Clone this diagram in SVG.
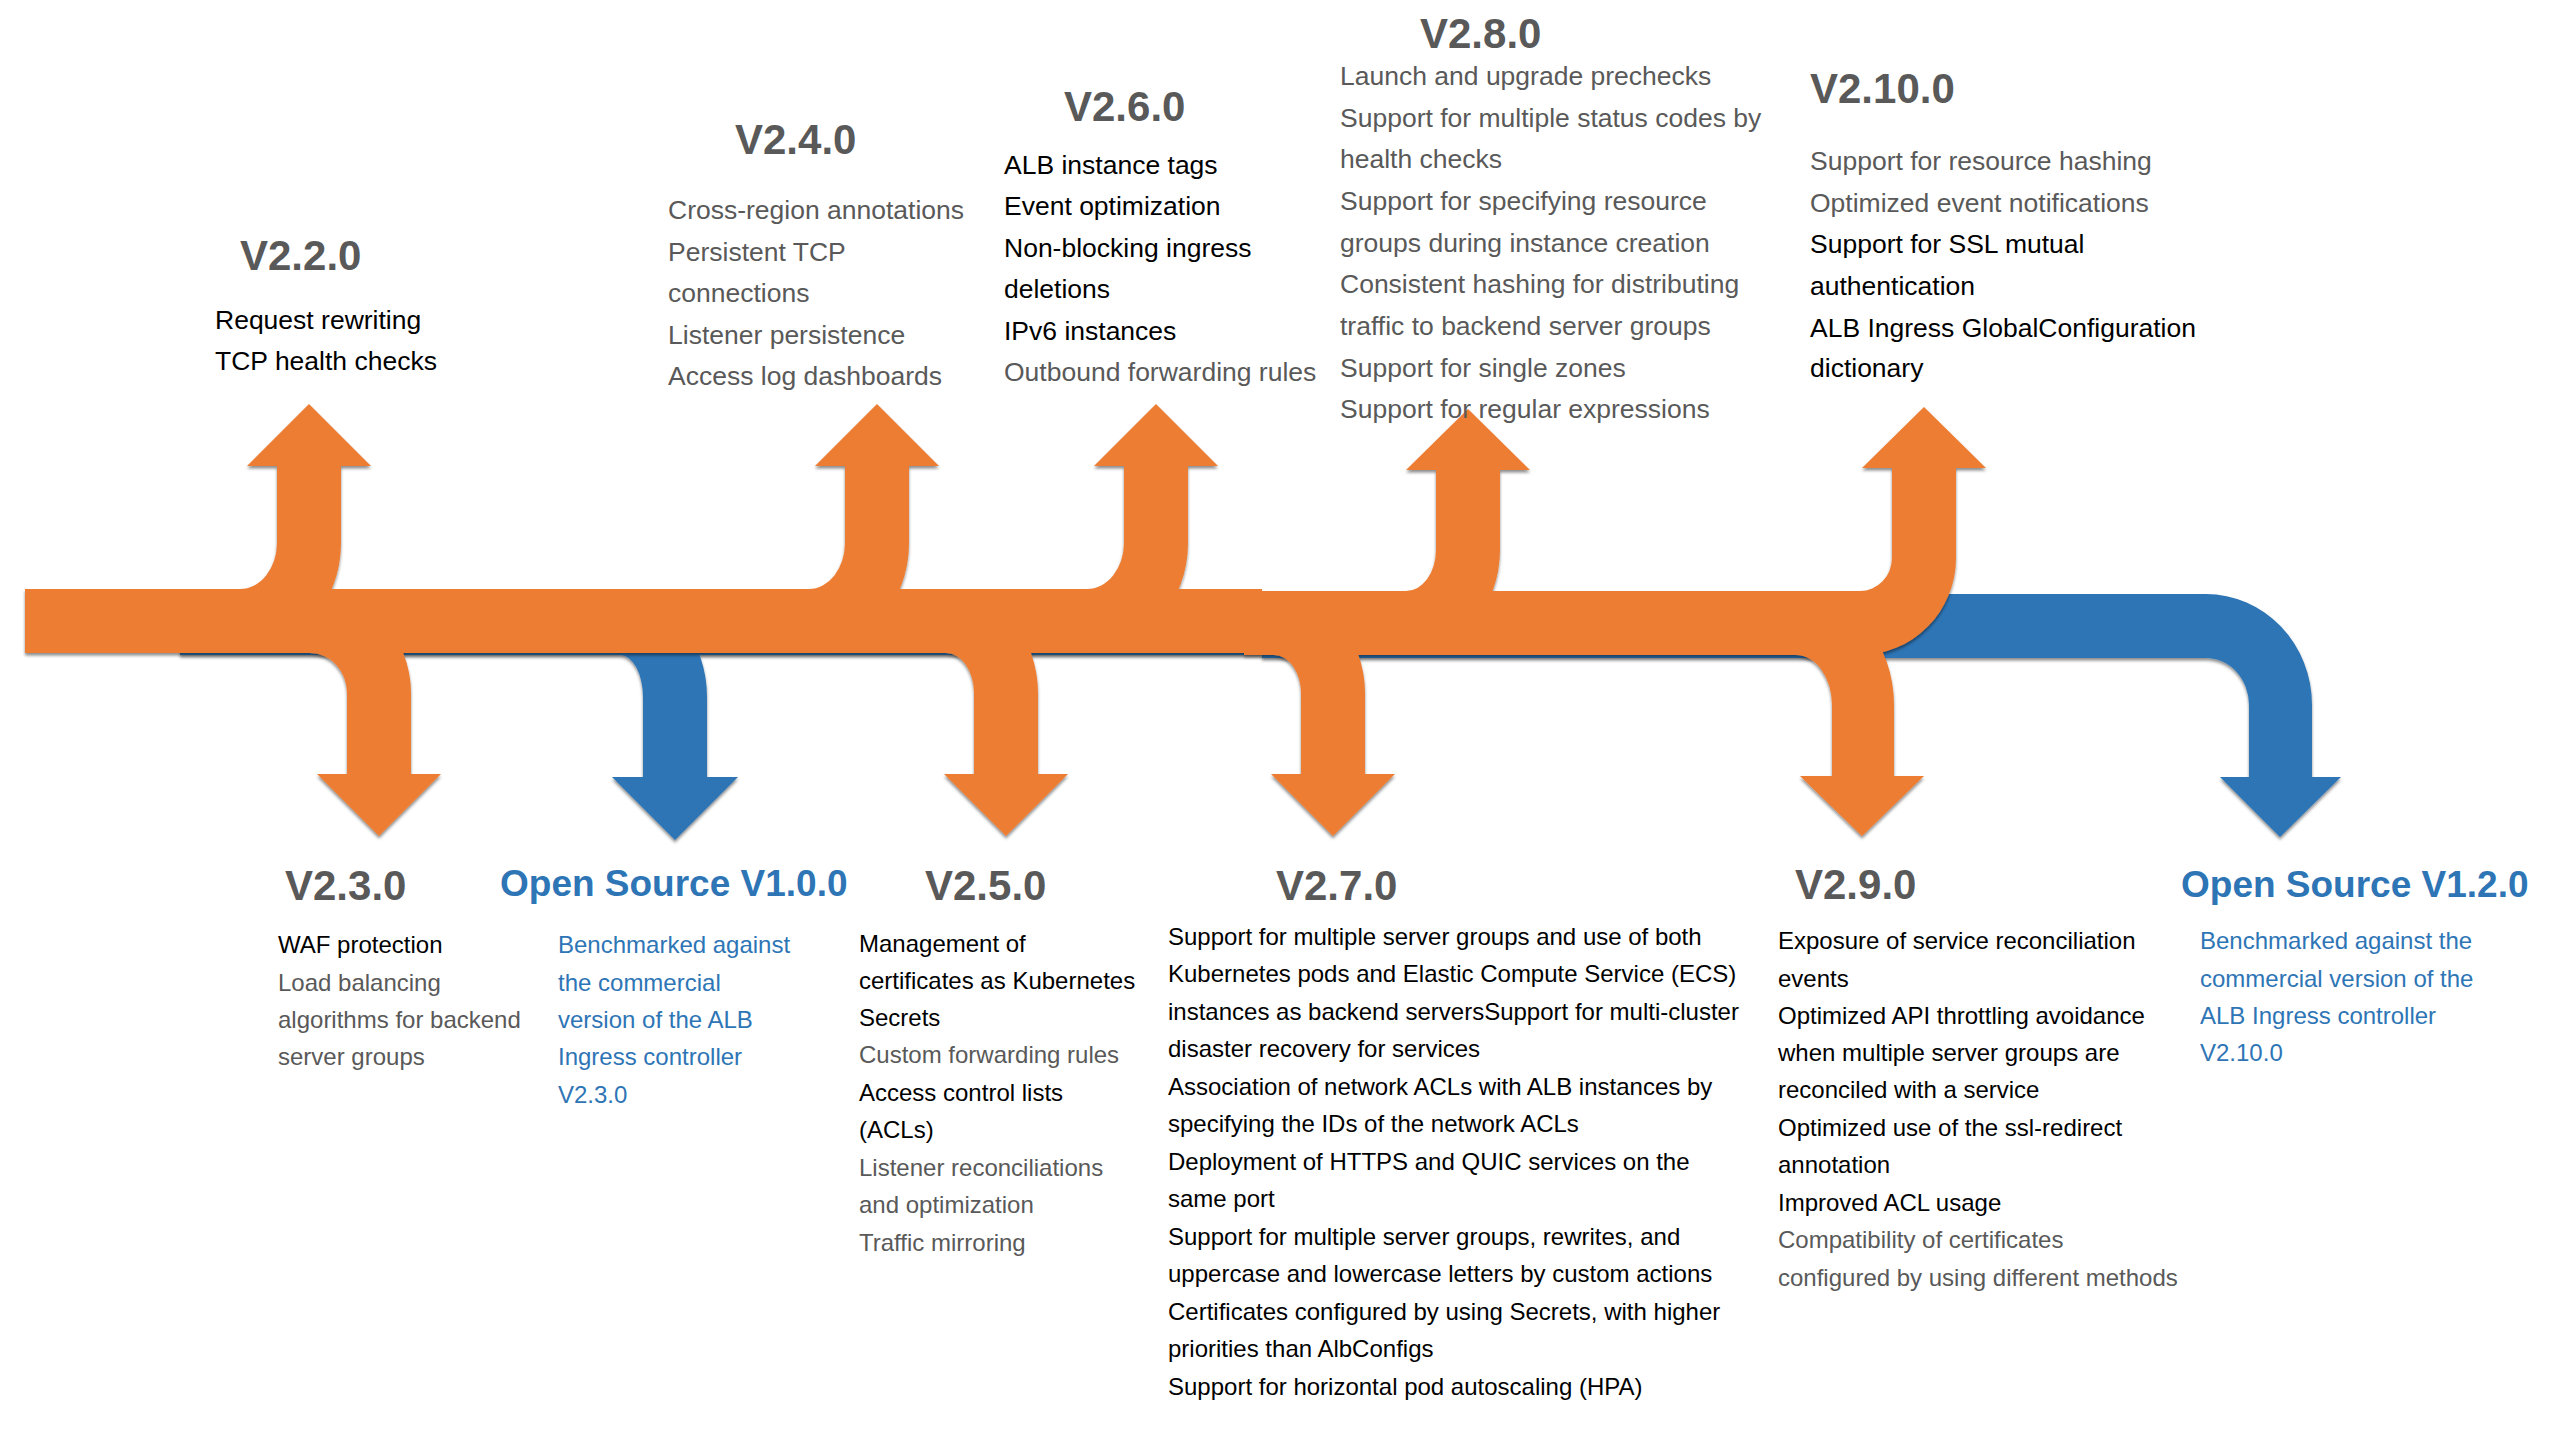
<svg xmlns="http://www.w3.org/2000/svg" width="2560" height="1440" viewBox="0 0 2560 1440">
<defs>
<filter id="sh" x="-5%" y="-5%" width="110%" height="120%">
<feDropShadow dx="0" dy="2.5" stdDeviation="1.5" flood-color="#000" flood-opacity="0.45"/>
</filter>
</defs>
<style>
text{font-family:"Liberation Sans",Arial,sans-serif}
.ttl{font-size:42px;font-weight:bold;fill:#595959}
.os{font-size:37px;font-weight:bold;fill:#2E75B6}
.u{font-size:26.5px}
.d{font-size:24px}
.k{fill:#000}
.g{fill:#595959}
.b{fill:#2E75B6}
.or{fill:#ED7D31}
.bl{fill:#2E75B6}
</style>
<rect width="2560" height="1440" fill="#fff"/>
<g id="connectors">
<g id="blue-track" filter="url(#sh)">
<path class="bl" d="M180,594 H2206 A106 111 0 0 1 2312,705 V777 H2341 L2280,837 L2220,777 H2249 V705 A43 47 0 0 0 2206,658 H1262 V655 H180 Z"/>
<path class="bl" d="M180,593 H620 A87 104 0 0 1 707,697 V777 H738 L675,840 L612,777 H643 V697 A23 42 0 0 0 620,655 H180 Z"/>
</g>
<g id="orange-track" filter="url(#sh)">
<rect class="or" x="25" y="589" width="1237" height="64"/>
<rect class="or" x="1255" y="591" width="590" height="64"/>
<path class="or" d="M280,589 H310 A101 104 0 0 1 411,693 V774 H441 L379,836 L317,774 H347 V693 A37 40 0 0 0 310,653 H280 Z"/>
<path class="or" d="M916,589 H946 A92 104 0 0 1 1038,693 V774 H1068 L1006,836 L944,774 H974 V693 A28 40 0 0 0 946,653 H916 Z"/>
<path class="or" d="M1244,591 H1274 A91 102 0 0 1 1365,693 V774 H1395 L1333,836 L1271,774 H1301 V693 A27 38 0 0 0 1274,655 H1244 Z"/>
<path class="or" d="M1766,591 H1796 A98 114 0 0 1 1894,705 V776 H1924 L1862,836 L1800,776 H1832 V705 A36 50 0 0 0 1796,655 H1766 Z"/>
<path class="or" d="M210,589 H240 A37 46 0 0 0 277,543 V466 H247 L309,404 L371,466 H341 V543 A101 110 0 0 1 240,653 H210 Z"/>
<path class="or" d="M779,589 H809 A36 46 0 0 0 845,543 V466 H815 L877,404 L939,466 H909 V543 A100 110 0 0 1 809,653 H779 Z"/>
<path class="or" d="M1057,589 H1087 A37 46 0 0 0 1124,543 V466 H1094 L1156,404 L1218,466 H1188 V543 A101 110 0 0 1 1087,653 H1057 Z"/>
<path class="or" d="M1376,591 H1406 A30 41 0 0 0 1436,550 V470 H1406 L1468,409 L1530,470 H1500 V550 A94 105 0 0 1 1406,655 H1376 Z"/>
<path class="or" d="M1830,591 H1860 A32 33 0 0 0 1892,558 V468 H1862 L1924,407 L1986,468 H1956 V558 A96 97 0 0 1 1860,655 H1830 Z"/>
</g>
</g>

<g id="v2-2-0">
<text class="ttl" x="240" y="270">V2.2.0</text>
<text class="u k" x="215" y="329">Request rewriting</text>
<text class="u k" x="215" y="370">TCP health checks</text>
</g>

<g id="v2-4-0">
<text class="ttl" x="735" y="154">V2.4.0</text>
<text class="u g" x="668" y="219">Cross-region annotations</text>
<text class="u g" x="668" y="261">Persistent TCP</text>
<text class="u g" x="668" y="302">connections</text>
<text class="u g" x="668" y="344">Listener persistence</text>
<text class="u g" x="668" y="385">Access log dashboards</text>
</g>

<g id="v2-6-0">
<text class="ttl" x="1064" y="121">V2.6.0</text>
<text class="u k" x="1004" y="174">ALB instance tags</text>
<text class="u k" x="1004" y="215">Event optimization</text>
<text class="u k" x="1004" y="257">Non-blocking ingress</text>
<text class="u k" x="1004" y="298">deletions</text>
<text class="u k" x="1004" y="340">IPv6 instances</text>
<text class="u g" x="1004" y="381">Outbound forwarding rules</text>
</g>

<g id="v2-8-0">
<text class="ttl" x="1420" y="48">V2.8.0</text>
<text class="u g" x="1340" y="85">Launch and upgrade prechecks</text>
<text class="u g" x="1340" y="127">Support for multiple status codes by</text>
<text class="u g" x="1340" y="168">health checks</text>
<text class="u g" x="1340" y="210">Support for specifying resource</text>
<text class="u g" x="1340" y="252">groups during instance creation</text>
<text class="u g" x="1340" y="293">Consistent hashing for distributing</text>
<text class="u g" x="1340" y="335">traffic to backend server groups</text>
<text class="u g" x="1340" y="377">Support for single zones</text>
<text class="u g" x="1340" y="418">Support for regular expressions</text>
</g>

<g id="v2-10-0">
<text class="ttl" x="1810" y="103">V2.10.0</text>
<text class="u g" x="1810" y="170">Support for resource hashing</text>
<text class="u g" x="1810" y="212">Optimized event notifications</text>
<text class="u k" x="1810" y="253">Support for SSL mutual</text>
<text class="u k" x="1810" y="295">authentication</text>
<text class="u k" x="1810" y="337">ALB Ingress GlobalConfiguration</text>
<text class="u k" x="1810" y="377">dictionary</text>
</g>

<g id="v2-3-0">
<text class="ttl" x="285" y="900">V2.3.0</text>
<text class="d k" x="278" y="953">WAF protection</text>
<text class="d g" x="278" y="991">Load balancing</text>
<text class="d g" x="278" y="1028">algorithms for backend</text>
<text class="d g" x="278" y="1065">server groups</text>
</g>

<g id="os-v1-0-0">
<text class="os" x="500" y="896">Open Source V1.0.0</text>
<text class="d b" x="558" y="953">Benchmarked against</text>
<text class="d b" x="558" y="991">the commercial</text>
<text class="d b" x="558" y="1028">version of the ALB</text>
<text class="d b" x="558" y="1065">Ingress controller</text>
<text class="d b" x="558" y="1103">V2.3.0</text>
</g>

<g id="v2-5-0">
<text class="ttl" x="925" y="900">V2.5.0</text>
<text class="d k" x="859" y="952">Management of</text>
<text class="d k" x="859" y="989">certificates as Kubernetes</text>
<text class="d k" x="859" y="1026">Secrets</text>
<text class="d g" x="859" y="1063">Custom forwarding rules</text>
<text class="d k" x="859" y="1101">Access control lists</text>
<text class="d k" x="859" y="1138">(ACLs)</text>
<text class="d g" x="859" y="1176">Listener reconciliations</text>
<text class="d g" x="859" y="1213">and optimization</text>
<text class="d g" x="859" y="1251">Traffic mirroring</text>
</g>

<g id="v2-7-0">
<text class="ttl" x="1276" y="900">V2.7.0</text>
<text class="d k" x="1168" y="945">Support for multiple server groups and use of both</text>
<text class="d k" x="1168" y="982">Kubernetes pods and Elastic Compute Service (ECS)</text>
<text class="d k" x="1168" y="1020">instances as backend serversSupport for multi-cluster</text>
<text class="d k" x="1168" y="1057">disaster recovery for services</text>
<text class="d k" x="1168" y="1095">Association of network ACLs with ALB instances by</text>
<text class="d k" x="1168" y="1132">specifying the IDs of the network ACLs</text>
<text class="d k" x="1168" y="1170">Deployment of HTTPS and QUIC services on the</text>
<text class="d k" x="1168" y="1207">same port</text>
<text class="d k" x="1168" y="1245">Support for multiple server groups, rewrites, and</text>
<text class="d k" x="1168" y="1282">uppercase and lowercase letters by custom actions</text>
<text class="d k" x="1168" y="1320">Certificates configured by using Secrets, with higher</text>
<text class="d k" x="1168" y="1357">priorities than AlbConfigs</text>
<text class="d k" x="1168" y="1395">Support for horizontal pod autoscaling (HPA)</text>
</g>

<g id="v2-9-0">
<text class="ttl" x="1795" y="899">V2.9.0</text>
<text class="d k" x="1778" y="949">Exposure of service reconciliation</text>
<text class="d k" x="1778" y="987">events</text>
<text class="d k" x="1778" y="1024">Optimized API throttling avoidance</text>
<text class="d k" x="1778" y="1061">when multiple server groups are</text>
<text class="d k" x="1778" y="1098">reconciled with a service</text>
<text class="d k" x="1778" y="1136">Optimized use of the ssl-redirect</text>
<text class="d k" x="1778" y="1173">annotation</text>
<text class="d k" x="1778" y="1211">Improved ACL usage</text>
<text class="d g" x="1778" y="1248">Compatibility of certificates</text>
<text class="d g" x="1778" y="1286">configured by using different methods</text>
</g>

<g id="os-v1-2-0">
<text class="os" x="2181" y="897">Open Source V1.2.0</text>
<text class="d b" x="2200" y="949">Benchmarked against the</text>
<text class="d b" x="2200" y="987">commercial version of the</text>
<text class="d b" x="2200" y="1024">ALB Ingress controller</text>
<text class="d b" x="2200" y="1061">V2.10.0</text>
</g>
</svg>
